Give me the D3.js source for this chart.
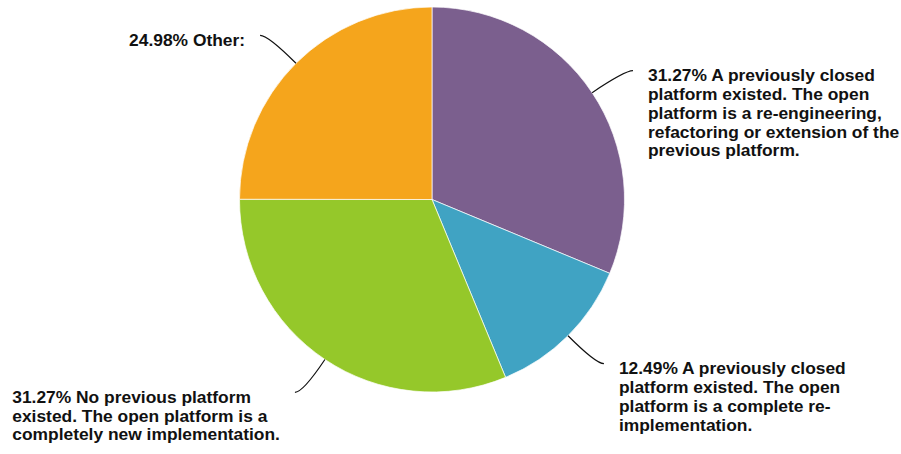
<!DOCTYPE html>
<html>
<head>
<meta charset="utf-8">
<script src="https://cdn.jsdelivr.net/npm/d3@7"></script>
<style>
  html, body { margin: 0; padding: 0; background: #fff; }
  svg { display: block; }
  .lbl { font-family: "Liberation Sans", Arial, Helvetica, sans-serif; font-weight: bold; font-size: 17.4px; fill: #111; }
</style>
</head>
<body>
<svg id="chart" width="901" height="454"></svg>
<script>
// Survey shares, clockwise from 12 o'clock
const categories = [
  "A previously closed platform existed. The open platform is a re-engineering, refactoring or extension of the previous platform.",
  "A previously closed platform existed. The open platform is a complete re-implementation.",
  "No previous platform existed. The open platform is a completely new implementation.",
  "Other:"
];
const values = [31.27, 12.49, 31.27, 24.98];
const colors = ["#7b5f8e", "#40a3c3", "#95c82a", "#f5a51c"];
// Wrapped label lines as they appear beside each slice
const labelLines = [
  ["31.27% A previously closed", "platform existed. The open", "platform is a re-engineering,", "refactoring or extension of the", "previous platform."],
  ["12.49% A previously closed", "platform existed. The open", "platform is a complete re-", "implementation."],
  ["31.27% No previous platform", "existed. The open platform is a", "completely new implementation."],
  ["24.98% Other:"]
];

const width = 901, height = 454;
const cx = 432, cy = 199.5, radius = 192.5;
const elbowRadius = 232, tail = 8, gap = 15, lineH = 18.8;

const svg = d3.select("#chart");
const g = svg.append("g").attr("transform", `translate(${cx},${cy})`);

const data = values.map((v, i) => ({ name: categories[i], value: v, color: colors[i], lines: labelLines[i] }));

const pie = d3.pie().value(d => d.value).sort(null);
const arc = d3.arc().innerRadius(0).outerRadius(radius);
const arcs = pie(data);

g.selectAll("path.slice")
  .data(arcs)
  .join("path")
  .attr("class", "slice")
  .attr("d", arc)
  .attr("fill", d => d.data.color)
  .attr("stroke", "#fff")
  .attr("stroke-width", 0.7);

const polar = (r, a) => [r * Math.sin(a), -r * Math.cos(a)];

arcs.forEach(d => {
  const mid = (d.startAngle + d.endAngle) / 2;
  const right = Math.sin(mid) >= 0;
  const start = polar(radius, mid);
  const ctrl = polar(elbowRadius, mid);
  const end = [ctrl[0] + (right ? tail : -tail), ctrl[1]];

  const p = d3.path();
  p.moveTo(start[0], start[1]);
  p.quadraticCurveTo(ctrl[0], ctrl[1], end[0], end[1]);
  g.append("path")
    .attr("d", p.toString())
    .attr("fill", "none")
    .attr("stroke", "#111")
    .attr("stroke-width", 1.2);

  const text = g.append("text").attr("class", "lbl");
  const tspans = d.data.lines.map((line, i) =>
    text.append("tspan").attr("y", end[1] + 10.5 + i * lineH).text(line)
  );
  if (right) {
    tspans.forEach(t => t.attr("x", end[0] + gap));
  } else {
    const maxW = d3.max(tspans, t => t.node().getComputedTextLength());
    const left = end[0] - gap - maxW;
    tspans.forEach(t => t.attr("x", left));
  }
});
</script>
</body>
</html>
